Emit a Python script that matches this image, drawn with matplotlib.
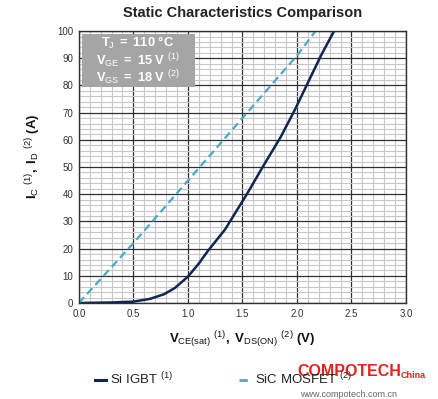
import matplotlib
matplotlib.use("Agg")
import matplotlib.pyplot as plt
from matplotlib.lines import Line2D
import numpy as np

plt.rcParams['font.family'] = ['Liberation Sans', 'DejaVu Sans']
plt.rcParams['mathtext.fontset'] = 'custom'
plt.rcParams['mathtext.rm'] = 'Liberation Sans'
plt.rcParams['mathtext.bf'] = 'Liberation Sans:bold'
plt.rcParams['mathtext.it'] = 'Liberation Sans:italic'

# Data
igbt_v = [0.0, 0.3, 0.5, 0.65, 0.78, 0.88, 1.0, 1.1, 1.18, 1.34, 1.54, 1.70, 1.85, 1.98, 2.10, 2.22, 2.34]
igbt_i = [0.0, 0.2, 0.5, 1.5, 3.2, 5.5, 9.7, 14.5, 19.0, 27.0, 40.0, 51.0, 61.0, 71.0, 81.0, 91.0, 100.0]
sic_v = [0.0, 0.5, 1.0, 1.5, 2.0, 2.17]
sic_i = [0.0, 22.0, 45.0, 68.0, 91.0, 100.0]

x_ticks = [0.0, 0.5, 1.0, 1.5, 2.0, 2.5, 3.0]
y_ticks = [0, 10, 20, 30, 40, 50, 60, 70, 80, 90, 100]

igbt_color = '#0f2552'
sic_color = '#4aa8c8'

fig = plt.figure(figsize=(4.38, 3.99), dpi=100)
ax = fig.add_axes([0.180, 0.2406, 0.747, 0.6814])

ax.set_xlim(0, 3.0)
ax.set_ylim(0, 100)
ax.set_xticks(x_ticks)
ax.set_xticklabels([f"{v:.1f}" for v in x_ticks])
ax.set_yticks(y_ticks)
ax.set_xticks(np.arange(0, 3.0001, 0.1), minor=True)
ax.set_yticks(np.arange(0, 100.001, 2), minor=True)
ax.grid(which='minor', color='#c8c8c8', linewidth=0.8)
ax.grid(which='major', color='#303030', linewidth=0.9)
ax.set_axisbelow(True)
ax.tick_params(which='both', length=0, labelsize=7, colors='#333333', pad=4)
for s in ax.spines.values():
    s.set_color('#303030')
    s.set_linewidth(1.0)

ax.plot(igbt_v, igbt_i, color=igbt_color, linewidth=1.8, solid_capstyle='round')
ax.plot(sic_v, sic_i, color=sic_color, linewidth=1.6, linestyle=(0, (3.5, 2)))

# Info box
ax.add_patch(plt.Rectangle((0.01, 0.794), 0.345, 0.195, transform=ax.transAxes,
                           facecolor='#a5a5a5', edgecolor='none', zorder=3))
box_lines = [r"$\mathbf{T}_{\mathrm{J}}\mathbf{\ =\ 110\ °C}$",
             r"$\mathbf{V}_{\mathrm{GE}}\mathbf{\ =\ 15\ V}\ ^{\mathrm{(1)}}$",
             r"$\mathbf{V}_{\mathrm{GS}}\mathbf{\ =\ 18\ V}\ ^{\mathrm{(2)}}$"]
for k, t in enumerate(box_lines):
    ax.text(0.18, 0.957 - k * 0.064, t, transform=ax.transAxes, color='white',
            fontsize=9.3, ha='center', va='center', zorder=4)

ax.set_title("Static Characteristics Comparison", fontsize=10.5, fontweight='bold',
             color='#222222', pad=10)
ax.set_xlabel(r"$\mathbf{V}_{\mathrm{CE(sat)}}\ ^{\mathrm{(1)}}\mathbf{,\ V}_{\mathrm{DS(ON)}}\ ^{\mathrm{(2)}}\ \mathbf{(V)}$",
              fontsize=9.5, labelpad=8, color='#111111')
ax.set_ylabel(r"$\mathbf{I}_{\mathrm{C}}\ ^{\mathrm{(1)}}\mathbf{,\ I}_{\mathrm{D}}\ ^{\mathrm{(2)}}\ \mathbf{(A)}$",
              fontsize=9.5, color='#111111')
ax.yaxis.set_label_coords(-0.11, 0.54)

# Legend
handles = [Line2D([0], [0], color=igbt_color, linewidth=2.2),
           Line2D([0], [0], color=sic_color, linewidth=2.0, linestyle=(0, (3, 1.5)))]
labels = [r"Si IGBT $^{\mathrm{(1)}}$", r"SiC MOSFET $^{\mathrm{(2)}}$"]
fig.legend(handles, labels, loc='center', bbox_to_anchor=(0.51, 0.05), ncol=2,
           frameon=False, fontsize=9.5, handlelength=0.9, handletextpad=0.3,
           columnspacing=5.0, labelcolor='#222222')

# Watermark
fig.text(0.680, 0.068, "COMPOTECH", color='#e3221b', fontsize=11.5, fontweight='bold',
         family='Liberation Sans', ha='left', va='center')
fig.text(0.914, 0.058, "China", color='#e3221b', fontsize=6.5, fontweight='bold',
         family='Liberation Sans', ha='left', va='center')
fig.text(0.685, 0.012, "www.compotech.com.cn", color='#666666', fontsize=6.5,
         ha='left', va='center')

fig.savefig("out.png", dpi=100)
